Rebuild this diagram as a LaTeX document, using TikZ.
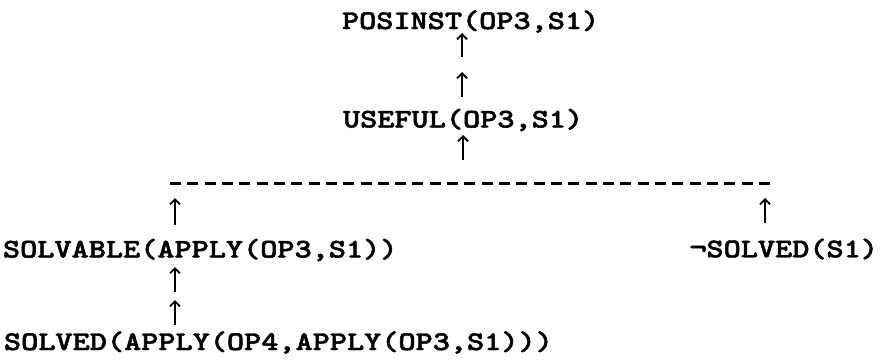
\documentclass[tikz,border=0pt]{standalone}
\usepackage{graphicx}
\usepackage{fontspec}
\newfontfamily\twfont{lmmonolt10-bold}[Extension=.otf, FakeBold=1.6]
\usetikzlibrary{arrows.meta}
\newcommand{\twtext}[1]{\scalebox{1.21}[1]{\fontsize{27pt}{30pt}\twfont #1}}
\tikzset{
  lbl/.style={inner sep=0pt, outer sep=0pt},
  up/.style={line width=1.8pt, -{Straight Barb[length=5pt,width=10pt,line width=1.8pt]}},
  dashline/.style={line width=3pt, dash pattern=on 11pt off 6.32pt}
}
\begin{document}
\begin{tikzpicture}[x=1pt,y=-1pt]
\useasboundingbox (0,0) rectangle (882,359);
% texts
\node[lbl, anchor=west] (p)  at (342,21.5) {\twtext{POSINST(OP3,S1)}};
\node[lbl, anchor=west] (u)  at (343,120)  {\twtext{USEFUL(OP3,S1)}};
\node[lbl, anchor=west] (sa) at (3,250)    {\twtext{SOLVABLE(APPLY(OP3,S1))}};
\node[lbl, anchor=east] (ns) at (878,249)  {\twtext{¬SOLVED(S1)}};
\node[lbl, anchor=west] (s)  at (4,342.5)  {\twtext{SOLVED(APPLY(OP4,APPLY(OP3,S1)))}};
% dashed join
\coordinate (d1) at (170,183);
\coordinate (d2) at (770,183);
\draw[dashline] (d1) -- (d2);
% arrow ends
\coordinate (a1s) at (462,57);  \coordinate (a1e) at (462,33);
\coordinate (a2s) at (462,97);  \coordinate (a2e) at (462,72);
\coordinate (a3s) at (463,160); \coordinate (a3e) at (463,135);
\coordinate (l1s) at (175,225); \coordinate (l1e) at (175,198);
\coordinate (l2s) at (175,292); \coordinate (l2e) at (175,267);
\coordinate (l3s) at (175,325); \coordinate (l3e) at (175,300);
\coordinate (r1s) at (765,223); \coordinate (r1e) at (765,198);
\draw[up] (a1s) -- (a1e);
\draw[up] (a2s) -- (a2e);
\draw[up] (a3s) -- (a3e);
\draw[up] (l1s) -- (l1e);
\draw[up] (l2s) -- (l2e);
\draw[up] (l3s) -- (l3e);
\draw[up] (r1s) -- (r1e);
\end{tikzpicture}
\end{document}
